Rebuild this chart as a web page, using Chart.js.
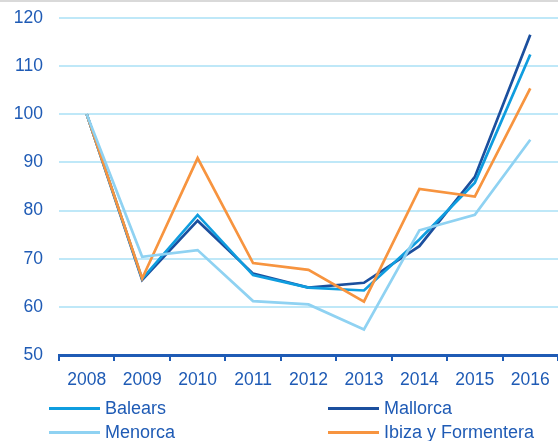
<!DOCTYPE html>
<html>
<head>
<meta charset="utf-8">
<script src="https://cdn.jsdelivr.net/npm/chart.js@4/dist/chart.umd.min.js"></script>
<style>
  html, body { margin: 0; padding: 0; background: #fff; }
  #wrap { position: relative; width: 558px; height: 441px; overflow: hidden; }
  #topbar { position: absolute; left: 0; top: 0; width: 558px; height: 2px; background: #d9d9d9; }
  canvas { position: absolute; left: 0; top: 0; }
  .leg { position: absolute; font-family: "Liberation Sans", Arial, sans-serif; font-size: 18px; color: #1f5bb5; line-height: 20px; white-space: nowrap; }
  .leg span.ln { display: inline-block; width: 51px; height: 3px; vertical-align: middle; margin-right: 5px; position: relative; top: -1px; }
</style>
</head>
<body>
<div id="wrap">
  <canvas id="c" width="558" height="441"></canvas>
  <div id="topbar"></div>
  <div id="legend"></div>
</div>
<script>
const years = ["2008","2009","2010","2011","2012","2013","2014","2015","2016"];
const balears  = [100, 65.8, 79.1, 66.6, 64.0, 63.4, 74.0, 85.8, 112.4];
const mallorca = [100, 65.6, 77.9, 66.9, 64.0, 65.0, 72.6, 87.0, 116.5];
const menorca  = [100, 70.4, 71.8, 61.2, 60.5, 55.3, 75.9, 79.1, 94.7];
const ibiza    = [100, 65.9, 90.9, 69.1, 67.7, 61.1, 84.5, 82.9, 105.4];
const yTicks   = [50, 60, 70, 80, 90, 100, 110, 120];

const textColor = "#1f5bb5";
const axisColor = "#1f5bb5";
const gridColor = "#bfe8f8";
const colBalears = "#0f9ddf";
const colMallorca = "#1b4f9e";
const colMenorca = "#8fd2f2";
const colIbiza = "#f7943f";

const series = [
  { label: "Balears", data: balears, color: colBalears },
  { label: "Mallorca", data: mallorca, color: colMallorca },
  { label: "Menorca", data: menorca, color: colMenorca },
  { label: "Ibiza y Formentera", data: ibiza, color: colIbiza }
];
const drawOrder = [2, 3, 0, 1]; // Menorca, Ibiza, Balears, Mallorca on top

const fontSpec = { family: "'Liberation Sans', Arial, sans-serif", size: 17.5 };

new Chart(document.getElementById("c"), {
  type: "line",
  data: {
    labels: years,
    datasets: drawOrder.map(i => ({
      label: series[i].label,
      data: series[i].data,
      borderColor: series[i].color,
      backgroundColor: series[i].color,
      borderWidth: 2.7,
      pointRadius: 0,
      tension: 0,
      fill: false
    }))
  },
  options: {
    responsive: false,
    animation: false,
    layout: { padding: { top: 18, right: 0, left: 0, bottom: 0 } },
    plugins: { legend: { display: false }, tooltip: { enabled: false } },
    scales: {
      x: {
        type: "category",
        offset: true,
        grid: { offset: true, drawOnChartArea: false, drawTicks: true, tickLength: 6, color: axisColor, lineWidth: 2 },
        border: { display: true, color: axisColor, width: 3 },
        ticks: { color: textColor, font: fontSpec, padding: 9, maxRotation: 0, autoSkip: false },
        afterFit: s => { s.height = 86; s.paddingLeft = 0; s.paddingRight = 0; }
      },
      y: {
        min: 50, max: 120,
        afterBuildTicks: s => { s.ticks = yTicks.map(v => ({ value: v })); },
        grid: { color: gridColor, lineWidth: 2, drawTicks: false },
        border: { display: false },
        ticks: { color: textColor, font: fontSpec, padding: 16 },
        afterFit: s => { s.width = 59; s.paddingTop = 0; s.paddingBottom = 0; }
      }
    }
  }
});

// HTML legend (two columns)
const legendPos = [
  { i: 0, left: 49, top: 398 },
  { i: 1, left: 328, top: 398 },
  { i: 2, left: 49, top: 422 },
  { i: 3, left: 328, top: 422 }
];
const legendEl = document.getElementById("legend");
legendPos.forEach(p => {
  const d = document.createElement("div");
  d.className = "leg";
  d.style.left = p.left + "px";
  d.style.top = p.top + "px";
  const ln = document.createElement("span");
  ln.className = "ln";
  ln.style.background = series[p.i].color;
  d.appendChild(ln);
  d.appendChild(document.createTextNode(series[p.i].label));
  legendEl.appendChild(d);
});
</script>
</body>
</html>
